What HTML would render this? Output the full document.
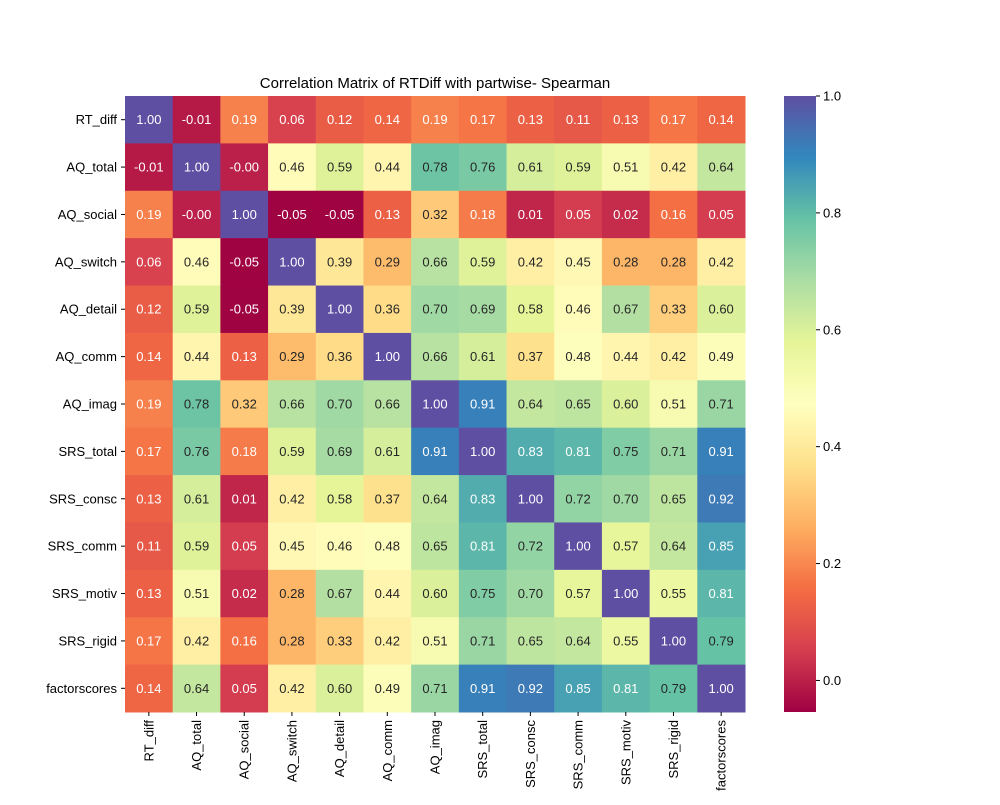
<!DOCTYPE html>
<html><head><meta charset="utf-8">
<style>
body{margin:0;background:#fff;}
svg text{font-family:"Liberation Sans","DejaVu Sans",sans-serif;}
</style></head>
<body>
<svg id="chart" width="1000" height="800" xmlns="http://www.w3.org/2000/svg">
<rect width="1000" height="800" fill="#fff"/>
<text x="435" y="88" font-size="15" text-anchor="middle">Correlation Matrix of RTDiff with partwise- Spearman</text>
<g id="cells"></g><g id="xlab"></g><g id="ylab"></g><g id="cbar"></g>
</svg>
<script>
const labels=["RT_diff","AQ_total","AQ_social","AQ_switch","AQ_detail","AQ_comm","AQ_imag","SRS_total","SRS_consc","SRS_comm","SRS_motiv","SRS_rigid","factorscores"];
const row0=[1.00,-0.01,0.19,0.06,0.12,0.14,0.19,0.17,0.13,0.11,0.13,0.17,0.14];
const row1=[-0.01,1.00,-0.00,0.46,0.59,0.44,0.78,0.76,0.61,0.59,0.51,0.42,0.64];
const row2=[0.19,-0.00,1.00,-0.05,-0.05,0.13,0.32,0.18,0.01,0.05,0.02,0.16,0.05];
const row3=[0.06,0.46,-0.05,1.00,0.39,0.29,0.66,0.59,0.42,0.45,0.28,0.28,0.42];
const row4=[0.12,0.59,-0.05,0.39,1.00,0.36,0.70,0.69,0.58,0.46,0.67,0.33,0.60];
const row5=[0.14,0.44,0.13,0.29,0.36,1.00,0.66,0.61,0.37,0.48,0.44,0.42,0.49];
const row6=[0.19,0.78,0.32,0.66,0.70,0.66,1.00,0.91,0.64,0.65,0.60,0.51,0.71];
const row7=[0.17,0.76,0.18,0.59,0.69,0.61,0.91,1.00,0.83,0.81,0.75,0.71,0.91];
const row8=[0.13,0.61,0.01,0.42,0.58,0.37,0.64,0.83,1.00,0.72,0.70,0.65,0.92];
const row9=[0.11,0.59,0.05,0.45,0.46,0.48,0.65,0.81,0.72,1.00,0.57,0.64,0.85];
const row10=[0.13,0.51,0.02,0.28,0.67,0.44,0.60,0.75,0.70,0.57,1.00,0.55,0.81];
const row11=[0.17,0.42,0.16,0.28,0.33,0.42,0.51,0.71,0.65,0.64,0.55,1.00,0.79];
const row12=[0.14,0.64,0.05,0.42,0.60,0.49,0.71,0.91,0.92,0.85,0.81,0.79,1.00];
const matrix=[row0,row1,row2,row3,row4,row5,row6,row7,row8,row9,row10,row11,row12];
const cbarTicks=[0.0,0.2,0.4,0.6,0.8,1.0];
const VMIN=-0.054,VMAX=1.0;
const L=125,T=96,W=620,H=616,N=labels.length,cw=W/N,ch=H/N;
const stops=["#9e0142","#d53e4f","#f46d43","#fdae61","#fee08b","#ffffbf","#e6f598","#abdda4","#66c2a5","#3288bd","#5e4fa2"].map(h=>[1,3,5].map(i=>parseInt(h.substr(i,2),16)));
function cmap(v){let t=(v-VMIN)/(VMAX-VMIN);t=Math.max(0,Math.min(1,t))*10;let i=Math.min(9,Math.floor(t)),f=t-i;return stops[i].map((c,k)=>c+(stops[i+1][k]-c)*f);}
function lum(c){const l=c.map(x=>{x/=255;return x<=0.03928?x/12.92:Math.pow((x+0.055)/1.055,2.4)});return 0.2126*l[0]+0.7152*l[1]+0.0722*l[2];}
function fmt(v){return (Object.is(v,-0)?"-":"")+v.toFixed(2);}
const NS="http://www.w3.org/2000/svg";
function mk(tag,attrs,parent){const e=document.createElementNS(NS,tag);for(const k in attrs)e.setAttribute(k,attrs[k]);parent.appendChild(e);return e;}
const cells=document.getElementById('cells');
const xs=i=>L+i*cw, ys=j=>T+j*ch;
matrix.forEach((row,j)=>row.forEach((v,i)=>{
 const c=cmap(v);
 const r=mk('rect',{x:xs(i),y:ys(j),width:cw+0.5,height:ch+0.5,fill:`rgb(${c.map(Math.round).join(',')})`},cells);
 
 
 const t=mk('text',{x:xs(i)+cw/2,y:ys(j)+ch/2+4.5,'font-size':13,'text-anchor':'middle',fill:lum(c)>0.408?'#262626':'#ffffff'},cells);
 
 
 t.textContent=fmt(v);
}));
const xl=document.getElementById('xlab'),yl=document.getElementById('ylab');
labels.forEach((lb,i)=>{
 const cx=xs(i)+cw/2;
 mk('line',{x1:cx,x2:cx,y1:T+H,y2:T+H+4,stroke:'#000'},xl);
 const t=mk('text',{transform:`translate(${cx+4.5},${T+H+8}) rotate(-90)`,'font-size':13,'text-anchor':'end'},xl);
 
 
 t.textContent=lb;
 const cy=ys(i)+ch/2;
 mk('line',{x1:L-4,x2:L,y1:cy,y2:cy,stroke:'#000'},yl);
 const u=mk('text',{x:L-8,y:cy+4.5,'font-size':13,'text-anchor':'end'},yl);
 
 
 u.textContent=lb;
});
const cb=document.getElementById('cbar');
const CX=784,CW=32,cyv=v=>T+H-(v-VMIN)/(VMAX-VMIN)*H;
const defs=mk('defs',{},cb);
const g=mk('linearGradient',{id:'grad',x1:0,y1:1,x2:0,y2:0},defs);
for(let k=0;k<=20;k++){const c=cmap(VMIN+(VMAX-VMIN)*k/20);mk('stop',{offset:k/20,'stop-color':`rgb(${c.map(Math.round).join(',')})`},g);}
const bar=mk('rect',{x:CX,y:T,width:CW,height:H,fill:'url(#grad)'},cb);


cbarTicks.forEach(v=>{
 const y=cyv(v);
 mk('line',{x1:CX+CW,x2:CX+CW+4,y1:y,y2:y,stroke:'#000'},cb);
 const t=mk('text',{x:CX+CW+7,y:y+4.5,'font-size':13},cb);
 
 
 t.textContent=v.toFixed(1);
});
</script>
</body></html>
